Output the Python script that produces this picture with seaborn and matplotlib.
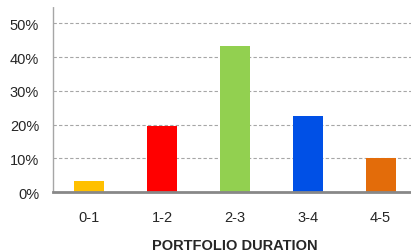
import matplotlib
matplotlib.use("Agg")
import matplotlib.pyplot as plt
import seaborn as sns
import pandas as pd
import numpy as np

categories = ["0-1", "1-2", "2-3", "3-4", "4-5"]
values = [3.3, 19.7, 43.3, 22.6, 10.1]
colors = ["#FFC000", "#FF0000", "#92D050", "#0050E6", "#E36C0A"]
yticks = [0, 10, 20, 30, 40, 50]
ytick_labels = ["0%", "10%", "20%", "30%", "40%", "50%"]
xlabel = "PORTFOLIO DURATION"

sns.set_style("white")
plt.rcParams['font.family'] = ['Liberation Sans', 'DejaVu Sans']

df = pd.DataFrame({"cat": categories, "val": values})

fig = plt.figure(figsize=(4.11, 2.53), dpi=100)
ax = fig.add_axes([53/411, 1-193.3/253, 364/411, (193.3-7.3)/253])

sns.barplot(data=df, x="cat", y="val", hue="cat", palette=colors, width=0.41,
            legend=False, ax=ax, saturation=1, edgecolor="none", zorder=3)

ax.set_xlim(-0.5, 4.5)
ax.set_ylim(0, 55)
ax.set_yticks(yticks)
ax.set_yticklabels(ytick_labels, fontsize=10.5)
ax.yaxis.grid(True, color="#A6A6A6", linestyle=(0, (3, 2)), linewidth=0.8, zorder=0)
ax.xaxis.grid(False)

ax.set_xticks(range(len(categories)))
ax.set_xticklabels(categories, fontsize=10.5)
ax.set_xticks(np.arange(-0.5, 5.0, 1.0), minor=True)
ax.tick_params(axis="x", which="major", length=0, pad=13)
ax.tick_params(axis="x", which="minor", length=5, color="#888888", width=1, direction="out")
ax.tick_params(axis="y", which="major", length=3, color="#A6A6A6", width=0.8, pad=7)

for s in ["top", "right"]:
    ax.spines[s].set_visible(False)
ax.spines["left"].set_linestyle((0, (1, 1)))
ax.spines["left"].set_color("#A6A6A6")
ax.spines["left"].set_linewidth(1)
ax.spines["bottom"].set_color("#888888")
ax.spines["bottom"].set_linewidth(2)
ax.spines["bottom"].set_zorder(4)

ax.set_xlabel(xlabel, fontsize=10.5, fontweight="bold", labelpad=10)
ax.set_ylabel("")

fig.savefig("out.png", dpi=100)
